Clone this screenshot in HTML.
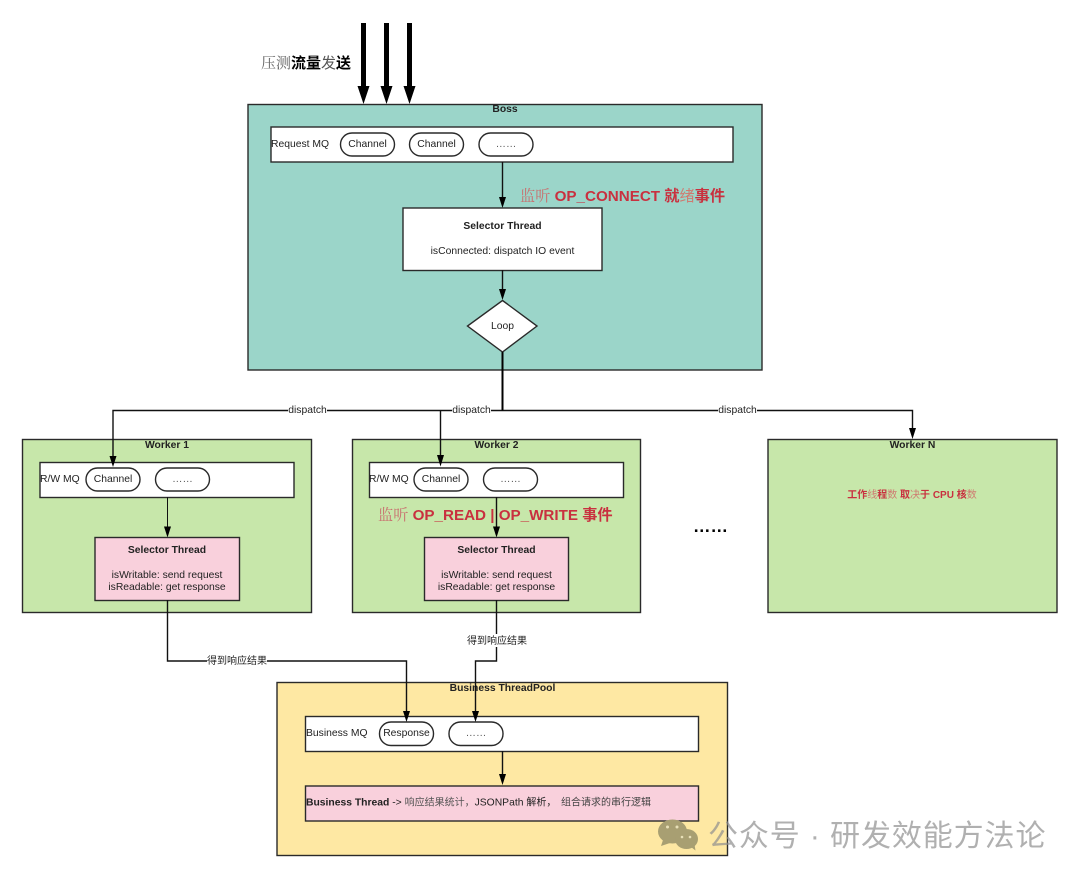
<!DOCTYPE html>
<html><head><meta charset="utf-8"><style>
html,body{margin:0;padding:0;background:#fff}
svg{display:block}
text{font-family:"Liberation Sans","Noto Sans CJK SC",sans-serif;font-size:10.35px;fill:#222}
.m{text-anchor:middle}
.b{font-weight:bold}
.r{fill:#c9303f;font-weight:bold}
.t{font-family:"Noto Serif CJK SC","Noto Sans CJK SC",serif;font-weight:normal;fill:#c8706f}
.u{font-weight:normal;fill:#cf7a70}
.bx{stroke:#2a2a2a;stroke-width:1.4}
.l{stroke:#111;stroke-width:1.4;fill:none}
</style></head><body>
<svg width="1080" height="879" viewBox="0 0 1080 879" xmlns="http://www.w3.org/2000/svg">
<rect width="1080" height="879" fill="#fff"/>
<!-- Boss -->
<rect class="bx" x="248" y="104.500" width="514" height="265.500" fill="#9bd5c9"/>
<text class="m b" x="505" y="112">Boss</text>
<rect class="bx" x="271" y="127" width="462" height="35" fill="#fff"/>
<text x="271" y="147">Request MQ</text>
<rect class="bx" x="340.500" y="133" width="54" height="23" rx="11.500" fill="#fff"/>
<text class="m" x="367.500" y="147">Channel</text>
<rect class="bx" x="409.500" y="133" width="54" height="23" rx="11.500" fill="#fff"/>
<text class="m" x="436.500" y="147">Channel</text>
<rect class="bx" x="479" y="133" width="54" height="23" rx="11.500" fill="#fff"/>
<text class="m" x="506" y="147" style="fill:#555">……</text>
<path class="l" d="M502.500 162V200"/><path d="M499 197h7l-3.500 11z" fill="#000"/>
<rect class="bx" x="403" y="208" width="199" height="62.500" fill="#fff"/>
<text class="m b" x="502.500" y="229">Selector Thread</text>
<text class="m" x="502.500" y="254">isConnected: dispatch IO event</text>
<path class="l" d="M502.500 270V292"/><path d="M499 289h7l-3.500 11z" fill="#000"/>
<path class="bx" d="M502.500 300.500L537 326L502.500 352L467.500 326Z" fill="#fff"/>
<text class="m" x="502.500" y="329">Loop</text>
<text x="520" y="201" style="font-size:15.200px" class="r"><tspan class="t">监听</tspan> OP_CONNECT 就<tspan class="u">绪</tspan>事件</text>
<!-- top arrows -->
<g fill="#000">
<rect x="361" y="23" width="5" height="66"/><path d="M357.500 86h12l-6 18z"/>
<rect x="384" y="23" width="5" height="66"/><path d="M380.500 86h12l-6 18z"/>
<rect x="407" y="23" width="5" height="66"/><path d="M403.500 86h12l-6 18z"/>
</g>
<text x="261" y="68" style="font-size:15px;fill:#555"><tspan style="font-family:'Noto Serif CJK SC',serif;fill:#666">压测</tspan><tspan style="font-weight:bold;fill:#000">流量</tspan><tspan style="fill:#555">发</tspan><tspan style="font-weight:bold;fill:#000">送</tspan></text>
<!-- Workers -->
<rect class="bx" x="22.500" y="439.500" width="289" height="173" fill="#c7e7aa"/>
<rect class="bx" x="352.500" y="439.500" width="288" height="173" fill="#c7e7aa"/>
<rect class="bx" x="768" y="439.500" width="289" height="173" fill="#c7e7aa"/>
<text class="m b" x="167" y="448">Worker 1</text>
<text class="m b" x="496.500" y="448">Worker 2</text>
<text class="m b" x="912.500" y="448">Worker N</text>
<!-- W1 -->
<rect class="bx" x="40" y="462.500" width="254" height="35" fill="#fff"/>
<text x="40" y="482">R/W MQ</text>
<rect class="bx" x="86" y="468" width="54" height="23" rx="11.500" fill="#fff"/>
<text class="m" x="113" y="482">Channel</text>
<rect class="bx" x="155.500" y="468" width="54" height="23" rx="11.500" fill="#fff"/>
<text class="m" x="182.500" y="482" style="fill:#555">……</text>
<path class="l" d="M167.500 497V530" style="stroke-width:1"/><path d="M164 526.500h7l-3.500 11z" fill="#000"/>
<rect class="bx" x="95" y="537.500" width="144.500" height="63" fill="#f9d0dc"/>
<text class="m b" x="167" y="553">Selector Thread</text>
<text class="m" x="167" y="578">isWritable: send request</text>
<text class="m" x="167" y="590">isReadable: get response</text>
<!-- W2 -->
<rect class="bx" x="369.500" y="462.500" width="254" height="35" fill="#fff"/>
<text x="369" y="482">R/W MQ</text>
<rect class="bx" x="414" y="468" width="54" height="23" rx="11.500" fill="#fff"/>
<text class="m" x="441" y="482">Channel</text>
<rect class="bx" x="483.500" y="468" width="54" height="23" rx="11.500" fill="#fff"/>
<text class="m" x="510.500" y="482" style="fill:#555">……</text>
<path class="l" d="M496.500 497V530"/><path d="M493 526.500h7l-3.500 11z" fill="#000"/>
<rect class="bx" x="424.500" y="537.500" width="144" height="63" fill="#f9d0dc"/>
<text class="m b" x="496.500" y="553">Selector Thread</text>
<text class="m" x="496.500" y="578">isWritable: send request</text>
<text class="m" x="496.500" y="590">isReadable: get response</text>
<text x="378" y="520" style="font-size:15.200px" class="r"><tspan class="t">监听</tspan> OP_READ | OP_WRITE 事件</text>
<text class="r" x="912" y="498" style="font-size:10px;text-anchor:middle">工作<tspan class="u">线</tspan>程<tspan class="u">数</tspan> 取<tspan class="u">决</tspan>于 CPU 核<tspan class="u">数</tspan></text>
<text x="693" y="532" style="font-size:17.500px;font-weight:bold;fill:#000">……</text>
<!-- dispatch lines -->
<path class="l" d="M113 462V410.500H912.500V432"/>
<path class="l" d="M440.500 410.500V455"/>
<path d="M502.500 352V410.500" stroke="#000" stroke-width="2" fill="none"/>
<path d="M109.500 456h7l-3.500 11z M437 455h7l-3.500 11.500z M909 428h7l-3.500 11z" fill="#000"/>
<rect x="288" y="403" width="39" height="13" fill="#fff"/>
<rect x="452" y="403" width="39" height="13" fill="#fff"/>
<rect x="718" y="403" width="39" height="13" fill="#fff"/>
<text class="m" x="307.500" y="413">dispatch</text>
<text class="m" x="471.500" y="413">dispatch</text>
<text class="m" x="737.500" y="413">dispatch</text>
<!-- Business -->
<rect class="bx" x="277" y="682.500" width="450.500" height="173" fill="#fee8a3"/>
<text class="m b" x="502.500" y="691">Business ThreadPool</text>
<rect class="bx" x="305.500" y="716.500" width="393" height="35" fill="#fff"/>
<text x="306" y="736">Business MQ</text>
<rect class="bx" x="379.500" y="722" width="54" height="23.500" rx="11.500" fill="#fff"/>
<text class="m" x="406.500" y="736">Response</text>
<rect class="bx" x="449" y="722" width="54" height="23.500" rx="11.500" fill="#fff"/>
<text class="m" x="476" y="736" style="fill:#555">……</text>
<path class="l" d="M502.500 751V778"/><path d="M499 774h7l-3.500 11z" fill="#000"/>
<rect class="bx" x="305.500" y="786" width="393" height="35" fill="#f9d0dc"/>
<text x="306" y="805.500"><tspan class="b">Business Thread</tspan> -&gt; <tspan style="font-size:10px;fill:#555">响应结果统计，</tspan>JSONPath <tspan style="font-size:10px">解析，</tspan><tspan style="font-size:10px;fill:#444" x="561">组合请求的串行逻辑</tspan></text>
<!-- result lines -->
<path class="l" d="M167.500 600V661H406.500V715"/>
<path class="l" d="M496.500 600V661H475.500V715"/>
<path d="M403 711h7l-3.500 11z M472 711h7l-3.500 11z" fill="#000"/>
<rect x="207" y="654" width="60" height="13" fill="#fff"/>
<rect x="467" y="634" width="60" height="13" fill="#fff"/>
<text class="m" x="237" y="664" style="font-size:10px">得到响应结果</text>
<text class="m" x="497" y="644" style="font-size:10px">得到响应结果</text>
<!-- watermark -->
<g fill="#a89f72">
<ellipse cx="672.500" cy="831.500" rx="14.500" ry="12"/><path d="M663 840l-2 6 9-3z"/>
<ellipse cx="686.500" cy="839" rx="11.500" ry="10"/><path d="M691 847l4.500 3.500-1-6z"/>
</g>
<g fill="#e8e0b8"><circle cx="667.500" cy="827" r="1.500"/><circle cx="677" cy="827" r="1.500"/><circle cx="682" cy="837" r="1.300"/><circle cx="690" cy="837" r="1.300"/></g>
<text x="708" y="846" style="font-size:30px;fill:#8f8f8f;fill-opacity:.7;letter-spacing:.9px;font-weight:400">公众号 · 研发效能方法论</text>
</svg>
</body></html>
